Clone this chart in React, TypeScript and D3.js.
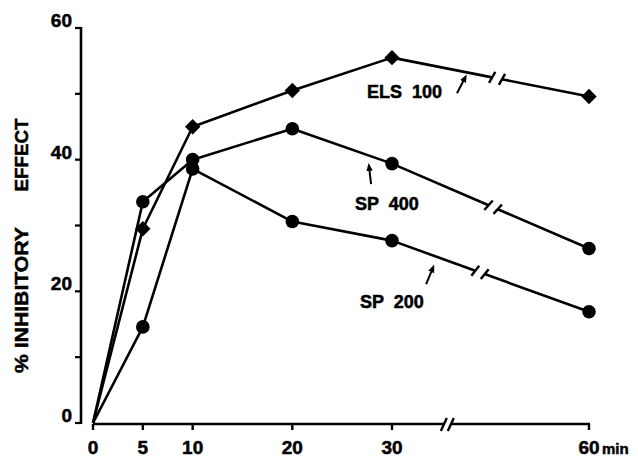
import { useEffect, useRef } from "react";
import * as d3 from "d3";

// minutes after dosing
const times = [0, 5, 10, 20, 30, 60];
const tickTimes = [0, 5, 10, 20, 30, 60];
const yTicks = [0, 10, 20, 30, 40, 50, 60];
const yLabels = [0, 20, 40, 60];

// % inhibitory effect
const els100 = [0, 29.5, 45, 50.5, 55.5, 49.6];
const sp400 = [0, 33.6, 40, 44.7, 39.4, 26.5];
const sp200 = [0, 14.6, 38.6, 30.6, 27.7, 16.9];

const seriesNames = ["ELS  100", "SP  400", "SP  200"];
const seriesMarkers = ["diamond", "circle", "circle"];
// where each curve is broken between 30 and 60 min
const seriesBreaks = [46, 45.4, 43.4];
const axisBreak = 38.5;

// label anchors and arrows, in data units [t, value]
const labelAt = [
  [27.5, 49.4],
  [26.3, 32.4],
  [26.8, 17.4],
];
const arrowFrom = [
  [39.9, 50.1],
  [27.9, 36.3],
  [35.2, 21.1],
];
const arrowTo = [
  [41.1, 52.4],
  [27.7, 38.9],
  [36.2, 23.5],
];

const W = 638;
const H = 460;
const FONT = "'Liberation Sans', Arial, Helvetica, sans-serif";

export default function App() {
  const svgRef = useRef<SVGSVGElement>(null);

  useEffect(() => {
    const svg = d3.select(svgRef.current);
    svg.selectAll("*").remove();

    // compressed scale after the axis break
    const x = d3.scaleLinear().domain([0, 30, 60]).range([93, 392, 589]);
    const y = d3.scaleLinear().domain([0, 60]).range([423, 28]);

    svg
      .append("defs")
      .append("marker")
      .attr("id", "head")
      .attr("viewBox", "0 0 10 10")
      .attr("refX", 5)
      .attr("refY", 5)
      .attr("markerWidth", 4)
      .attr("markerHeight", 4)
      .attr("orient", "auto")
      .append("path")
      .attr("d", "M0,1 L10,5 L0,9 Z")
      .attr("fill", "#000");

    const g = svg.append("g");
    const yAxisX = 81;
    const axisY = y(0) + 1;

    const boldText = (sel: any, size: number) =>
      sel
        .attr("font-family", FONT)
        .attr("font-weight", "bold")
        .attr("font-size", size)
        .attr("stroke", "#000")
        .attr("stroke-width", 0.5)
        .attr("fill", "#000");

    // y axis
    g.append("line")
      .attr("x1", yAxisX).attr("x2", yAxisX)
      .attr("y1", y(60) - 1).attr("y2", y(0) + 1)
      .attr("stroke", "#000").attr("stroke-width", 2.6);
    g.selectAll(".ytick")
      .data(yTicks)
      .enter()
      .append("line")
      .attr("x1", yAxisX - 6).attr("x2", yAxisX)
      .attr("y1", (d) => y(d)).attr("y2", (d) => y(d))
      .attr("stroke", "#000").attr("stroke-width", 2.2);
    boldText(
      g.selectAll(".ylab")
        .data(yLabels)
        .enter()
        .append("text")
        .attr("x", yAxisX - 9)
        .attr("y", (d) => y(d) - 1)
        .attr("text-anchor", "end"),
      19
    ).text((d: number) => d);

    // y title
    const title = [
      ["EFFECT", 155, 73],
      ["% INHIBITORY", 300, 146],
    ] as const;
    title.forEach(([t, cy, len]) => {
      boldText(
        g.append("text")
          .attr("transform", `translate(28,${cy}) rotate(-90)`)
          .attr("text-anchor", "middle")
          .attr("textLength", len)
          .attr("lengthAdjust", "spacingAndGlyphs"),
        19
      ).text(t);
    });

    // x axis with break
    const bx = x(axisBreak);
    g.append("line")
      .attr("x1", x(0)).attr("x2", bx - 4)
      .attr("y1", axisY).attr("y2", axisY)
      .attr("stroke", "#000").attr("stroke-width", 2.6);
    g.append("line")
      .attr("x1", bx + 3).attr("x2", x(60) + 1)
      .attr("y1", axisY).attr("y2", axisY)
      .attr("stroke", "#000").attr("stroke-width", 2.6);
    [-4, 3].forEach((o) => {
      g.append("line")
        .attr("x1", bx + o - 3).attr("x2", bx + o + 3)
        .attr("y1", axisY + 7).attr("y2", axisY - 6)
        .attr("stroke", "#000").attr("stroke-width", 2.4);
    });
    g.selectAll(".xtick")
      .data(tickTimes)
      .enter()
      .append("line")
      .attr("x1", (d) => x(d)).attr("x2", (d) => x(d))
      .attr("y1", axisY).attr("y2", axisY + 6)
      .attr("stroke", "#000").attr("stroke-width", 2.4);
    boldText(
      g.selectAll(".xlab")
        .data(tickTimes)
        .enter()
        .append("text")
        .attr("x", (d) => x(d))
        .attr("y", axisY + 30)
        .attr("text-anchor", "middle"),
      19
    ).text((d: number) => d);
    boldText(
      g.append("text")
        .attr("x", x(60) + 13)
        .attr("y", axisY + 30),
      15
    ).text("min");

    // series
    const allSeries = [els100, sp400, sp200];
    allSeries.forEach((vals, si) => {
      const pts = times.map((t, i) => [x(t), y(vals[i])] as [number, number]);
      const line = d3.line();
      // up to 30 min
      g.append("path")
        .attr("d", line(pts.slice(0, 5)))
        .attr("fill", "none")
        .attr("stroke", "#000")
        .attr("stroke-width", 2.6)
        .attr("stroke-linejoin", "round");

      // 30 -> 60 with a break
      const [ax, ay] = pts[4];
      const [cx, cy] = pts[5];
      const dx = cx - ax;
      const dy = cy - ay;
      const L = Math.hypot(dx, dy);
      const ux = dx / L;
      const uy = dy / L;
      const f = (seriesBreaks[si] - 30) / 30;
      const mx = ax + dx * f;
      const my = ay + dy * f;
      const gap = 5;
      g.append("line")
        .attr("x1", ax).attr("y1", ay)
        .attr("x2", mx - ux * gap).attr("y2", my - uy * gap)
        .attr("stroke", "#000").attr("stroke-width", 2.6);
      g.append("line")
        .attr("x1", mx + ux * gap).attr("y1", my + uy * gap)
        .attr("x2", cx).attr("y2", cy)
        .attr("stroke", "#000").attr("stroke-width", 2.6);
      [-gap, gap].forEach((o) => {
        const px = mx + ux * o;
        const py = my + uy * o;
        g.append("line")
          .attr("x1", px - uy * 6 - ux * 2).attr("y1", py + ux * 6 - uy * 2)
          .attr("x2", px + uy * 6 + ux * 2).attr("y2", py - ux * 6 + uy * 2)
          .attr("stroke", "#000").attr("stroke-width", 2.4);
      });

      // markers
      const mk = g.selectAll(`.m${si}`).data(pts.slice(1)).enter();
      if (seriesMarkers[si] === "diamond") {
        mk.append("path")
          .attr("d", d3.symbol(d3.symbolDiamond2, 150)())
          .attr("transform", (d) => `translate(${d[0]},${d[1]})`)
          .attr("fill", "#000");
      } else {
        mk.append("circle")
          .attr("cx", (d) => d[0])
          .attr("cy", (d) => d[1])
          .attr("r", 6.8)
          .attr("fill", "#000");
      }

      // label + arrow
      boldText(
        g.append("text")
          .attr("x", x(labelAt[si][0]))
          .attr("y", y(labelAt[si][1]))
          .style("white-space", "pre"),
        18
      ).text(seriesNames[si]);
      g.append("line")
        .attr("x1", x(arrowFrom[si][0])).attr("y1", y(arrowFrom[si][1]))
        .attr("x2", x(arrowTo[si][0])).attr("y2", y(arrowTo[si][1]))
        .attr("stroke", "#000").attr("stroke-width", 2)
        .attr("marker-end", "url(#head)");
    });
  }, []);

  return (
    <svg
      ref={svgRef}
      width={W}
      height={H}
      style={{ display: "block", position: "absolute", left: 0, top: 0, background: "#fff" }}
    />
  );
}
